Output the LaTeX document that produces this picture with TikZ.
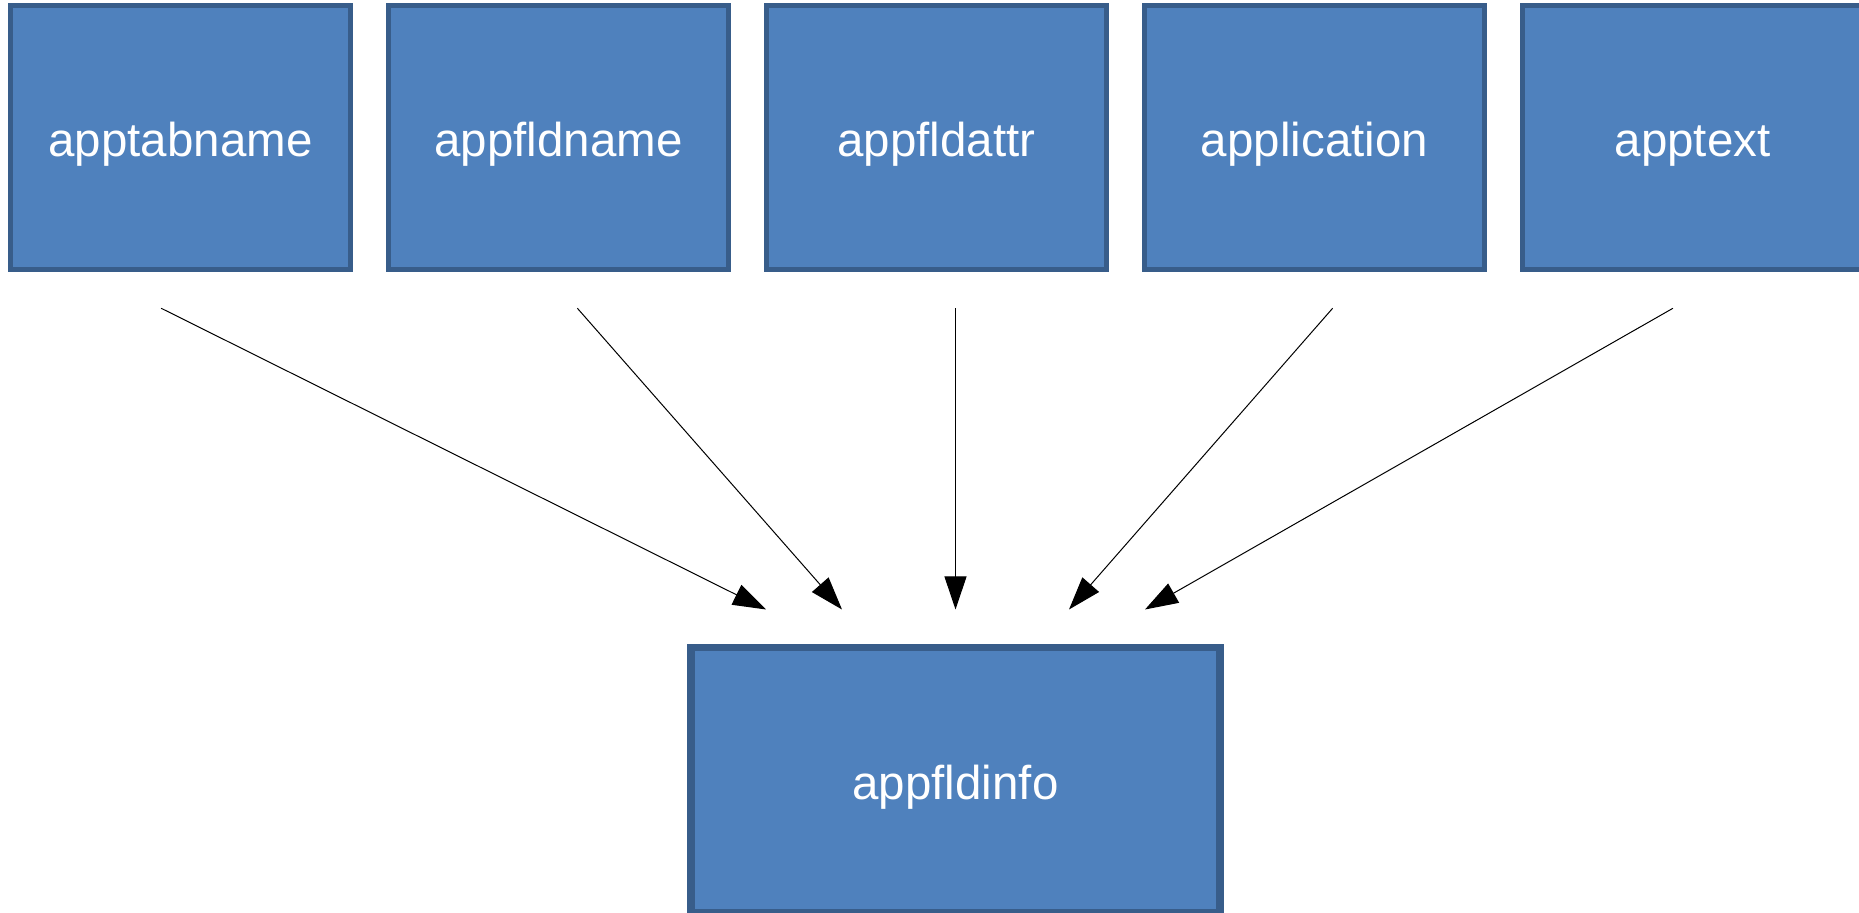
\documentclass[tikz,border=0pt]{standalone}
\usepackage{fontspec}
\setmainfont[Ligatures=CommonOff]{Liberation Sans}
\usetikzlibrary{arrows.meta}
\definecolor{boxfill}{HTML}{4F81BD}
\definecolor{boxline}{HTML}{385D8A}
\tikzset{
  table/.style={draw=boxline, fill=boxfill, line width=2.65pt,
    minimum width=169.85pt, minimum height=132pt, inner sep=0pt,
    text=white, font=\fontsize{23.75}{28}\selectfont,
    text height=19.3pt, text depth=0pt},
  bigtable/.style={table, line width=3.7pt,
    minimum width=264.5pt, minimum height=132.5pt},
  conn/.style={line width=0.5pt, -{Triangle[length=16.5pt,width=11pt]}}
}
\begin{document}
\begin{tikzpicture}[x={(0.5pt,0)}, y={(0,-0.5pt)}]
  \useasboundingbox (0,0) rectangle (1859,913);

  % source tables
  \node[table] (apptabname)  at (180.5,137.65)  {apptabname};
  \node[table] (appfldname)  at (558.5,137.65)  {appfldname};
  \node[table] (appfldattr)  at (936.5,137.65)  {appfldattr};
  \node[table] (application) at (1314.5,137.65) {application};
  \node[table] (apptext)     at (1692.5,137.65) {apptext};

  % target table
  \node[bigtable] (appfldinfo) at (955.5,780.2) {appfldinfo};

  % connector end points
  \coordinate (s1) at (161.2,308.3);
  \coordinate (s2) at (577.4,308.3);
  \coordinate (s3) at (955.5,308.3);
  \coordinate (s4) at (1332.6,308.3);
  \coordinate (s5) at (1672.9,308.3);
  \coordinate (t1) at (766,609.5);
  \coordinate (t2) at (842,609.5);
  \coordinate (t3) at (955.5,609.5);
  \coordinate (t4) at (1069,609.5);
  \coordinate (t5) at (1145,609.5);

  \draw[conn] (s1) -- (t1);
  \draw[conn] (s2) -- (t2);
  \draw[conn] (s3) -- (t3);
  \draw[conn] (s4) -- (t4);
  \draw[conn] (s5) -- (t5);
\end{tikzpicture}
\end{document}
